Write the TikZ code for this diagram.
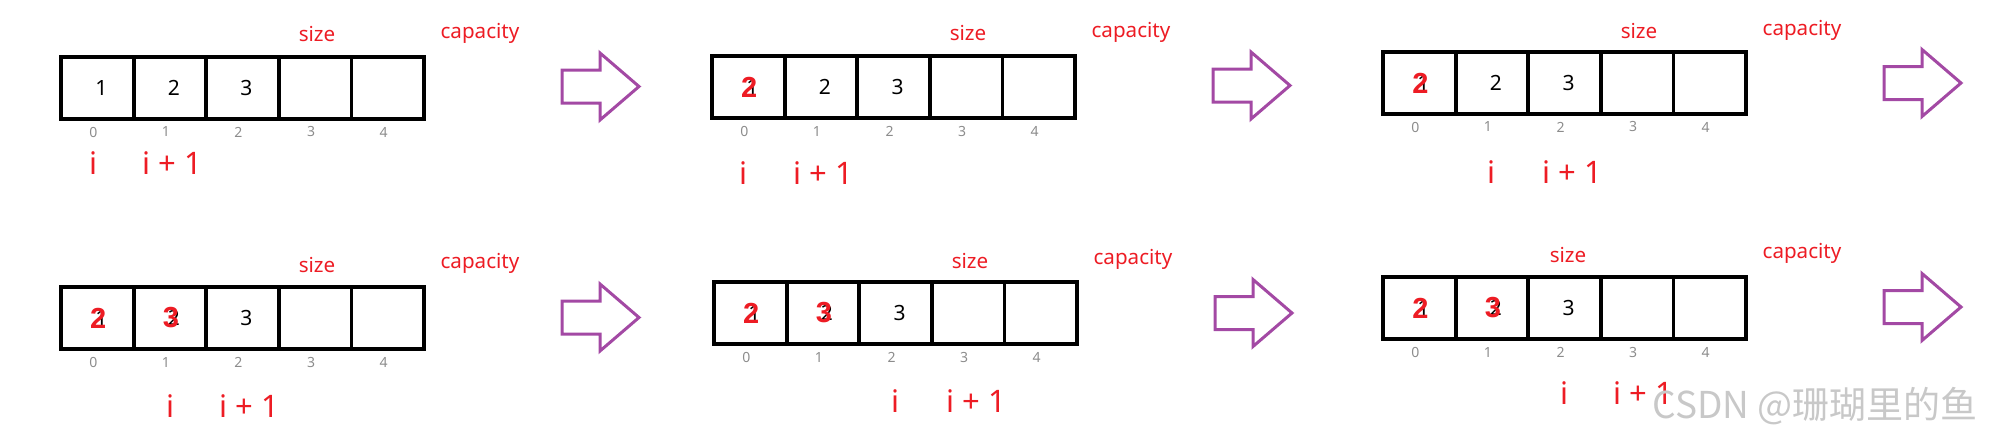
\documentclass[tikz,border=0pt]{standalone}
\usepackage{fontspec}
\setmainfont{Noto Sans}
\newfontfamily\cjkfont{Noto Sans CJK SC}
\newfontfamily\redfont{Liberation Sans}
\definecolor{myred}{RGB}{237,28,36}
\definecolor{mypurple}{RGB}{163,73,164}
\definecolor{idxgray}{RGB}{140,140,140}
\definecolor{wmgray}{RGB}{200,200,200}
\tikzset{
 cell/.style={draw=black, line width=1.9pt, minimum width=36.3pt, minimum height=31pt, inner sep=0pt, outer sep=0pt},
 idx/.style={text=idxgray, font=\fontsize{7}{8}\selectfont, inner sep=0pt},
 val/.style={text=black, font=\fontsize{10.5}{12}\selectfont, inner sep=0pt},
 newval/.style={text=myred, font=\redfont\bfseries\fontsize{14.5}{16}\selectfont, inner sep=0pt},
 lbl/.style={text=myred, font=\fontsize{10.3}{12}\selectfont, inner sep=0pt},
 ptr/.style={text=myred, font=\fontsize{15.5}{18}\selectfont, inner sep=0pt},
 blockarrow/.style={draw=mypurple, line width=1.5pt, line join=miter, fill=white},
 wm/.style={text=wmgray, font=\cjkfont\fontsize{18.5}{20}\selectfont, inner sep=0pt},
}
\newcommand\drawpanel[3]{%
 \foreach \k in {0,...,4}{
  \node[cell] (#1-\k) at ({#2+36.3+72.6*\k},{#3+31}) {};
  \node[idx] (#1-n\k) at ({#2+32.3+72.6*\k},{#3+75}) {\k};
 }
}
\newcommand\blockarrowat[2]{%
 \draw[blockarrow] (#1,#2-16.5) -- (#1+38,#2-16.5) -- (#1+38,#2-33.5) -- (#1+77,#2)
   -- (#1+38,#2+33.5) -- (#1+38,#2+16.5) -- (#1,#2+16.5) -- cycle;
}
\begin{document}
\begin{tikzpicture}[x=0.5pt,y=-0.5pt]
\useasboundingbox (0,0) rectangle (2002,439);
% panels
\drawpanel{a}{61}{57}
\drawpanel{b}{712}{56}
\drawpanel{c}{1383}{52}
\drawpanel{d}{61}{287}
\drawpanel{e}{714}{282}
\drawpanel{f}{1383}{277}
% panel a values
\node[val] (a-v0) at ([xshift=2pt]a-0.center) {1};
\node[val] (a-v1) at ([xshift=2pt]a-1.center) {2};
\node[val] (a-v2) at ([xshift=2pt]a-2.center) {3};
% panel b values
\node[val] (b-v0) at ([xshift=2pt]b-0.center) {1};
\node[newval] (b-r0) at ([xshift=0.5pt]b-0.center) {2};
\node[val] (b-v1) at ([xshift=2pt]b-1.center) {2};
\node[val] (b-v2) at ([xshift=2pt]b-2.center) {3};
% panel c values
\node[val] (c-v0) at ([xshift=2pt]c-0.center) {1};
\node[newval] (c-r0) at ([xshift=0.5pt]c-0.center) {2};
\node[val] (c-v1) at ([xshift=2pt]c-1.center) {2};
\node[val] (c-v2) at ([xshift=2pt]c-2.center) {3};
% panels d, e, f values
\foreach \p in {d,e,f}{
 \node[val] (\p-v0) at ([xshift=2pt]\p-0.center) {1};
 \node[newval] (\p-r0) at ([xshift=0.5pt]\p-0.center) {2};
 \node[val] (\p-v1) at ([xshift=2pt]\p-1.center) {2};
 \node[newval] (\p-r1) at ([xshift=0.5pt]\p-1.center) {3};
 \node[val] (\p-v2) at ([xshift=2pt]\p-2.center) {3};
}
% size / capacity labels
\node[lbl] (a-size) at (317,34) {size};
\node[lbl] (a-cap) at (480,33) {capacity};
\node[lbl] (b-size) at (968,33) {size};
\node[lbl] (b-cap) at (1131,32) {capacity};
\node[lbl] (c-size) at (1639,31) {size};
\node[lbl] (c-cap) at (1802,30) {capacity};
\node[lbl] (d-size) at (317,265) {size};
\node[lbl] (d-cap) at (480,263) {capacity};
\node[lbl] (e-size) at (970,261) {size};
\node[lbl] (e-cap) at (1133,259) {capacity};
\node[lbl] (f-size) at (1568,255) {size};
\node[lbl] (f-cap) at (1802,253) {capacity};
% pointers
\node[ptr] (a-i) at (93,163) {i};
\node[ptr] (a-j) at (172,163) {i + 1};
\node[ptr] (b-i) at (743,173) {i};
\node[ptr] (b-j) at (823,173) {i + 1};
\node[ptr] (c-i) at (1491,172) {i};
\node[ptr] (c-j) at (1572,172) {i + 1};
\node[ptr] (d-i) at (170,406) {i};
\node[ptr] (d-j) at (249,406) {i + 1};
\node[ptr] (e-i) at (895,401) {i};
\node[ptr] (e-j) at (976,401) {i + 1};
\node[ptr] (f-i) at (1564,393) {i};
\node[ptr] (f-j) at (1643,393) {i + 1};
% block arrows
\blockarrowat{562}{86.5}
\blockarrowat{1213}{85.5}
\blockarrowat{1884}{83}
\blockarrowat{562}{317.5}
\blockarrowat{1215}{313}
\blockarrowat{1884}{307}
% watermark
\node[wm, anchor=west] (wmark) at (1652,406) {CSDN @珊瑚里的鱼};
\end{tikzpicture}
\end{document}
